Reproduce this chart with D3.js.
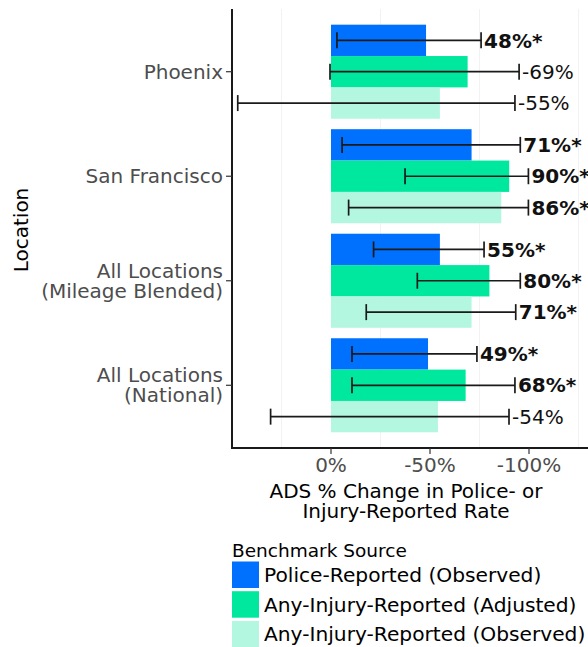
<!DOCTYPE html>
<html><head><meta charset="utf-8">
<script src="https://cdn.jsdelivr.net/npm/d3@7/dist/d3.min.js"></script>
<style>
body{margin:0;background:#fff;}
svg{display:block;font-family:"DejaVu Sans",sans-serif;}
</style></head>
<body>
<svg id="chart" width="588" height="647"></svg>
<script>
// ---- data ----
const locations = ["Phoenix", "San Francisco", "All Locations\n(Mileage Blended)", "All Locations\n(National)"];
const seriesNames = ["Police-Reported (Observed)", "Any-Injury-Reported (Adjusted)", "Any-Injury-Reported (Observed)"];
const seriesColors = ["#0070ff", "#00e89e", "#b4f7e1"];
// reduction (%) per location, per series
const policeObs   = [48, 71, 55, 49];
const injuryAdj   = [69, 90, 80, 68];
const injuryObs   = [55, 86, 71, 54];
// confidence interval bounds (% reduction)
const policeLo = [3, 5.6, 21.5, 10.6];
const policeHi = [75.8, 95.6, 77.3, 73.7];
const adjLo    = [-0.5, 37.4, 43.6, 10.6];
const adjHi    = [95, 99.7, 95.6, 92.9];
const obsLo    = [-47.1, 8.9, 17.8, -30.5];
const obsHi    = [92.9, 99.7, 93.3, 89.9];
// significance flags
const policeSig = [true, true, true, true];
const adjSig    = [false, true, true, true];
const obsSig    = [false, true, true, false];
const xTickVals = [0, 50, 100];
const xTickLabels = ["0%", "-50%", "-100%"];
const gridVals = [-25, 25, 75, 125];

const values = [policeObs, injuryAdj, injuryObs];
const lows = [policeLo, adjLo, obsLo];
const highs = [policeHi, adjHi, obsHi];
const sigs = [policeSig, adjSig, obsSig];

const rows = [];
locations.forEach((loc, i) => {
  seriesNames.forEach((s, j) => {
    rows.push({loc, series: s, j, v: values[j][i], lo: lows[j][i], hi: highs[j][i], sig: sigs[j][i]});
  });
});

// ---- layout ----
const svg = d3.select("#chart");
const plotL = 232, plotT = 9, plotB = 448;
const x = d3.scaleLinear().domain([-50, 135]).range([plotL, plotL + 185 * 1.98]);
const y = d3.scaleBand().domain(locations).range([plotT, plotB]).paddingInner(0).paddingOuter(0.1);
const y2 = d3.scaleBand().domain(seriesNames).range([y.bandwidth() * 0.05, y.bandwidth() * 0.95]);
const color = d3.scaleOrdinal().domain(seriesNames).range(seriesColors);

// grid
svg.append("g").selectAll("line").data(gridVals).join("line")
  .attr("x1", d => x(d)).attr("x2", d => x(d))
  .attr("y1", plotT).attr("y2", plotB)
  .attr("stroke", "#f2f2f2").attr("stroke-width", 1);

// bars
svg.append("g").selectAll("rect").data(rows).join("rect")
  .attr("x", d => x(Math.min(0, d.v)))
  .attr("width", d => Math.abs(x(d.v) - x(0)))
  .attr("y", d => y(d.loc) + y2(d.series))
  .attr("height", y2.bandwidth())
  .attr("fill", d => color(d.series));

// error bars
const eb = svg.append("g").attr("stroke", "#1a1a1a").attr("stroke-width", 1.7).attr("fill", "none");
const cy = d => y(d.loc) + y2(d.series) + y2.bandwidth() / 2;
const capH = 8;
eb.selectAll("line.h").data(rows).join("line").attr("class", "h")
  .attr("x1", d => x(d.lo)).attr("x2", d => x(d.hi))
  .attr("y1", cy).attr("y2", cy);
eb.selectAll("line.l").data(rows).join("line").attr("class", "l")
  .attr("x1", d => x(d.lo)).attr("x2", d => x(d.lo))
  .attr("y1", d => cy(d) - capH).attr("y2", d => cy(d) + capH);
eb.selectAll("line.r").data(rows).join("line").attr("class", "r")
  .attr("x1", d => x(d.hi)).attr("x2", d => x(d.hi))
  .attr("y1", d => cy(d) - capH).attr("y2", d => cy(d) + capH);

// value labels
svg.append("g").selectAll("text").data(rows).join("text")
  .attr("x", d => x(d.hi) + 3)
  .attr("y", cy)
  .attr("dy", "0.36em")
  .attr("font-size", 20)
  .attr("font-weight", d => d.sig ? "bold" : "normal")
  .attr("fill", "#111")
  .text(d => d.sig ? `${d.v}%*` : `-${d.v}%`);

// axes lines
svg.append("line").attr("x1", plotL).attr("x2", plotL).attr("y1", plotT).attr("y2", plotB + 1)
  .attr("stroke", "#1a1a1a").attr("stroke-width", 2);
svg.append("line").attr("x1", plotL - 1).attr("x2", 588).attr("y1", plotB).attr("y2", plotB)
  .attr("stroke", "#1a1a1a").attr("stroke-width", 2);

// y ticks + labels
const yt = svg.append("g");
locations.forEach(loc => {
  const c = y(loc) + y.bandwidth() / 2;
  yt.append("line").attr("x1", plotL - 6).attr("x2", plotL).attr("y1", c).attr("y2", c)
    .attr("stroke", "#333").attr("stroke-width", 1.2);
  const lines = loc.split("\n");
  const t = yt.append("text").attr("text-anchor", "end").attr("font-size", 20).attr("fill", "#4d4d4d");
  lines.forEach((ln, k) => {
    t.append("tspan").attr("x", plotL - 9)
      .attr("y", c + (k - (lines.length - 1) / 2) * 20)
      .attr("dy", "0.36em").text(ln);
  });
});

// x ticks + labels
const xt = svg.append("g");
xTickVals.forEach((v, i) => {
  xt.append("line").attr("x1", x(v)).attr("x2", x(v)).attr("y1", plotB).attr("y2", plotB + 6)
    .attr("stroke", "#333").attr("stroke-width", 1.2);
  xt.append("text").attr("x", x(v)).attr("y", plotB + 17).attr("dy", "0.36em")
    .attr("text-anchor", "middle").attr("font-size", 20).attr("fill", "#4d4d4d").text(xTickLabels[i]);
});

// axis titles
svg.append("text").attr("text-anchor", "middle").attr("font-size", 20).attr("fill", "#000")
  .attr("x", 406).attr("y", 491).attr("dy", "0.36em").text("ADS % Change in Police- or");
svg.append("text").attr("text-anchor", "middle").attr("font-size", 20).attr("fill", "#000")
  .attr("x", 406).attr("y", 510.5).attr("dy", "0.36em").text("Injury-Reported Rate");
svg.append("text").attr("text-anchor", "middle").attr("font-size", 20).attr("fill", "#000")
  .attr("transform", "translate(21,230) rotate(-90)").attr("dy", "0.36em").text("Location");

// legend
const lg = svg.append("g");
lg.append("text").attr("x", 232).attr("y", 550).attr("dy", "0.36em").attr("font-size", 18.5)
  .attr("fill", "#000").text("Benchmark Source");
seriesNames.forEach((s, i) => {
  const yy = 561.5 + i * 29.7;
  lg.append("rect").attr("x", 232).attr("y", yy).attr("width", 27).attr("height", 26.5).attr("fill", color(s));
  lg.append("text").attr("x", 264).attr("y", yy + 13.3).attr("dy", "0.36em").attr("font-size", 20.2)
    .attr("fill", "#000").text(s);
});
</script>
</body></html>
